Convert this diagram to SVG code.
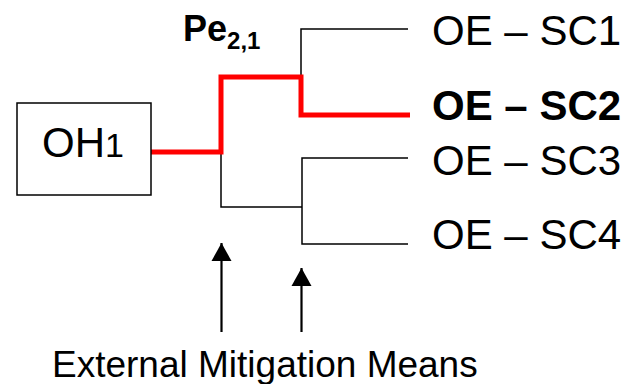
<svg xmlns="http://www.w3.org/2000/svg" width="630" height="384" viewBox="0 0 630 384">
<style>
text{font-family:"Liberation Sans",Arial,sans-serif;fill:#000}
.lbl{font-size:42px}
.blk{fill:none;stroke:#000;stroke-width:1.5}
.red{fill:none;stroke:#ff0000;stroke-width:5;stroke-linejoin:miter}
.arr{stroke:#000;stroke-width:2.2}
</style>
<defs>
<marker id="ah" markerUnits="userSpaceOnUse" markerWidth="20" markerHeight="22" viewBox="0 0 20 22" refX="18" refY="11" orient="auto">
<path d="M0,1 L18,11 L0,21 Z" fill="#000"/>
</marker>
</defs>
<g id="connectors">
<path class="blk" d="M301,77 V29 H408"/>
<path class="blk" d="M221,152 V207 H302"/>
<path class="blk" d="M408,158 H302 V244 H408"/>
<path class="red" d="M151,152 H221 V77 H301 V115 H410"/>
<line class="arr" x1="221.5" y1="332" x2="221.5" y2="243" marker-end="url(#ah)"/>
<line class="arr" x1="301.5" y1="332" x2="301.5" y2="268" marker-end="url(#ah)"/>
</g>
<g id="oh1">
<rect x="17" y="103" width="134" height="92" fill="#fff" stroke="#000" stroke-width="1.5"/>
<text x="42" y="157" class="lbl">OH<tspan font-size="34">1</tspan></text>
</g>
<g id="pe21">
<text x="183" y="41" font-size="36" font-weight="bold">Pe<tspan font-size="24" dy="8">2,1</tspan></text>
</g>
<g id="sc1"><text x="432" y="45" class="lbl">OE – SC1</text></g>
<g id="sc2"><text x="432" y="120" class="lbl" font-weight="bold">OE – SC2</text></g>
<g id="sc3"><text x="432" y="175" class="lbl">OE – SC3</text></g>
<g id="sc4"><text x="432" y="249" class="lbl">OE – SC4</text></g>
<g id="emm"><text x="52" y="377" font-size="37">External Mitigation Means</text></g>
</svg>
